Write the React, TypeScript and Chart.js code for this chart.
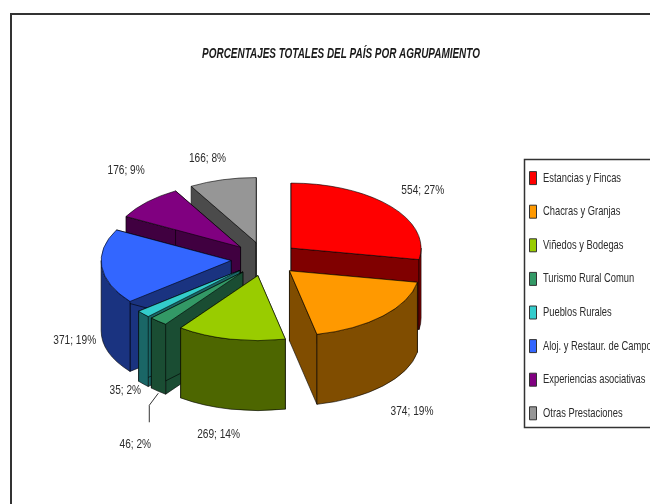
import React, { useEffect, useRef } from "react";
import { Chart, registerables } from "chart.js";

Chart.register(...registerables);

const titleText = "PORCENTAJES TOTALES DEL PAÍS POR AGRUPAMIENTO";
const categories = [
  "Estancias y Fincas",
  "Chacras y Granjas",
  "Viñedos y Bodegas",
  "Turismo Rural Comun",
  "Pueblos Rurales",
  "Aloj. y Restaur. de Campo",
  "Experiencias asociativas",
  "Otras Prestaciones",
];
const values = [554, 374, 269, 46, 35, 371, 176, 166];
const percents = [27, 19, 14, 2, 2, 19, 9, 8];

const topColors = ["#FF0000", "#FF9900", "#99CC00", "#339966", "#33CCCC", "#3366FF", "#800080", "#969696"];
const sideColors = ["#800000", "#804D00", "#4D6600", "#1A4D33", "#1A6666", "#1A3380", "#400040", "#4B4B4B"];

const FONT = '"Liberation Sans", sans-serif';
const INK = "#2b2b2b";

// Style settings of the 3D look
const SQUASH = 0.5;
const DEPTH = 70;
const EXPLODE = 34;
const labelNudge = [
  [32, -16], [29, 25], [-12, 25], [-23, 53], [-18, 6], [-27, 4], [-21, -32], [-15, -21],
];
const LEADER_INDEX = 3;
const TITLE_SQUEEZE = 0.71;
const LEGEND_SQUEEZE = 0.72;
const LABEL_SQUEEZE = 0.78;

let squeeze = LEGEND_SQUEEZE;

// The reference uses a narrow face; no narrow face is installed, so text is squeezed horizontally.
function narrowText(ctx: any) {
  const original = ctx.fillText.bind(ctx);
  ctx.fillText = (text: string, x: number, y: number) => {
    const k = ctx.font.includes("bold") ? TITLE_SQUEEZE : squeeze;
    ctx.save();
    ctx.translate(x, y);
    ctx.scale(k, 1);
    original(text, 0, 0);
    ctx.restore();
  };
}

const pie3d = {
  id: "pie3d",
  beforeDraw(chart: any) {
    const ctx = chart.ctx;
    ctx.save();
    ctx.fillStyle = "#ffffff";
    ctx.fillRect(0, 0, chart.width, chart.height);
    ctx.strokeStyle = "#333333";
    ctx.lineWidth = 2;
    ctx.strokeRect(11, 14, 900, 900);
    ctx.lineWidth = 1.5;
    ctx.strokeRect(524.5, 159.5, 300, 268);
    ctx.restore();
    squeeze = LEGEND_SQUEEZE;
  },
  afterLayout(chart: any) {
    const a = chart.chartArea;
    a.left = 0; a.right = 530; a.top = 14; a.bottom = 504;
    a.width = 530; a.height = 490;
    const t = chart.titleBlock;
    if (t) { t.left = 32; t.right = 650; t.top = 46; t.bottom = 64; }
    const l = chart.legend;
    if (l) {
      const w = l.width, h = l.height;
      l.left = 508.9; l.right = l.left + w;
      l.top = 151; l.bottom = l.top + h;
    }
  },
  beforeDatasetDraw(chart: any, args: any) {
    const ctx = chart.ctx;
    const arcs: any[] = args.meta.data;
    const midOf = (el: any) => (el.startAngle + el.endAngle) / 2;
    const order = arcs.map((_, i) => i).sort((p, q) => Math.sin(midOf(arcs[p])) - Math.sin(midOf(arcs[q])));
    for (const i of order) {
      const el = arcs[i];
      const s = el.startAngle, e = el.endAngle, m = midOf(el);
      const cx = el.x + EXPLODE * Math.cos(m);
      const cy = el.y + EXPLODE * SQUASH * Math.sin(m);
      const a = el.outerRadius, b = a * SQUASH;
      ctx.save();
      ctx.fillStyle = sideColors[i];
      ctx.strokeStyle = "rgba(0,0,0,0.6)";
      ctx.lineWidth = 1;
      ctx.lineJoin = "round";
      for (const t of [s, e]) {
        const ex = cx + a * Math.cos(t), ey = cy + b * Math.sin(t);
        ctx.beginPath();
        ctx.moveTo(cx, cy);
        ctx.lineTo(ex, ey);
        ctx.lineTo(ex, ey + DEPTH);
        ctx.lineTo(cx, cy + DEPTH);
        ctx.closePath();
        ctx.fill();
        ctx.stroke();
      }
      const fs = Math.max(s, 0), fe = Math.min(e, Math.PI);
      if (fe > fs) {
        ctx.beginPath();
        ctx.ellipse(cx, cy, a, b, 0, fs, fe, false);
        ctx.ellipse(cx, cy + DEPTH, a, b, 0, fe, fs, true);
        ctx.closePath();
        ctx.fill();
        ctx.stroke();
      }
      ctx.save();
      ctx.translate(cx, cy);
      ctx.scale(1, SQUASH);
      ctx.translate(-el.x, -el.y);
      el.draw(ctx);
      ctx.restore();
      ctx.beginPath();
      ctx.moveTo(cx, cy);
      ctx.ellipse(cx, cy, a, b, 0, s, e, false);
      ctx.closePath();
      ctx.stroke();
      ctx.restore();
    }
    return false;
  },
  afterDatasetsDraw(chart: any) {
    const ctx = chart.ctx;
    const arcs: any[] = chart.getDatasetMeta(0).data;
    ctx.save();
    ctx.font = `13px ${FONT}`;
    ctx.fillStyle = INK;
    ctx.textAlign = "center";
    ctx.textBaseline = "middle";
    squeeze = LABEL_SQUEEZE;
    arcs.forEach((el, i) => {
      const m = (el.startAngle + el.endAngle) / 2;
      const r = el.outerRadius + EXPLODE;
      const px = el.x + r * Math.cos(m);
      const py = el.y + r * SQUASH * Math.sin(m) + (Math.sin(m) > 0 ? DEPTH : 0);
      const lx = px + labelNudge[i][0], ly = py + labelNudge[i][1];
      ctx.fillText(`${values[i]}; ${percents[i]}%`, lx, ly);
      if (i === LEADER_INDEX) {
        ctx.strokeStyle = "#333333";
        ctx.lineWidth = 1;
        ctx.beginPath();
        ctx.moveTo(px, py + 2);
        ctx.lineTo(px - 9, py + 14);
        ctx.lineTo(px - 9, py + 31);
        ctx.stroke();
      }
    });
    squeeze = LEGEND_SQUEEZE;
    ctx.restore();
  },
};

export default function App() {
  const ref = useRef<HTMLCanvasElement | null>(null);
  useEffect(() => {
    document.body.style.margin = "0";
    const canvas = ref.current as HTMLCanvasElement;
    narrowText(canvas.getContext("2d"));
    const chart = new Chart(canvas, {
      type: "pie",
      data: {
        labels: categories,
        datasets: [
          {
            data: values,
            backgroundColor: topColors,
            borderWidth: 0,
            radius: 130,
          } as any,
        ],
      },
      options: {
        responsive: false,
        animation: false,
        plugins: {
          tooltip: { enabled: false },
          title: {
            display: true,
            text: titleText,
            color: "#1a1a1a",
            padding: 0,
            font: { family: FONT, size: 14, weight: "bold", style: "italic", lineHeight: 1.2 },
          },
          legend: {
            display: true,
            position: "right",
            align: "start",
            labels: {
              boxWidth: 7,
              boxHeight: 13,
              padding: 20.6,
              color: INK,
              font: { family: FONT, size: 13 },
              generateLabels: (c: any) =>
                c.data.labels.map((text: string, i: number) => ({
                  text,
                  fillStyle: topColors[i],
                  strokeStyle: "#333333",
                  lineWidth: 1,
                  index: i,
                  fontColor: INK,
                })),
            },
          },
        },
      } as any,
      plugins: [pie3d as any],
    });
    return () => chart.destroy();
  }, []);
  return (
    <canvas
      ref={ref}
      width={650}
      height={504}
      style={{ display: "block", width: 650, height: 504, filter: "blur(0.4px)" }}
    />
  );
}
